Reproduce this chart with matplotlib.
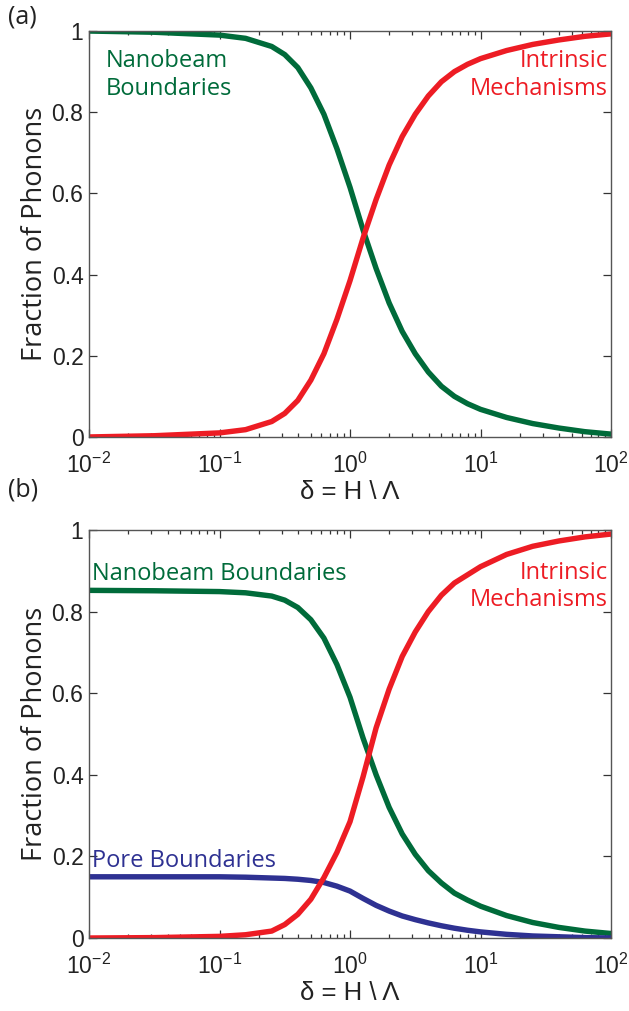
import numpy as np
import matplotlib
matplotlib.use("Agg")
import matplotlib.pyplot as plt
from matplotlib.ticker import FixedLocator, FixedFormatter, LogLocator, NullFormatter

# x positions (delta), read at these log10 values
log_delta = [-2, -1.5, -1, -0.8, -0.6, -0.5, -0.4, -0.3, -0.2, -0.1, 0, 0.1, 0.2,
             0.3, 0.4, 0.5, 0.6, 0.7, 0.8, 0.9, 1.0, 1.2, 1.4, 1.6, 1.8, 2]
delta = 10.0 ** np.array(log_delta)

# panel (a)
a_intrinsic = [0.0, 0.003, 0.01, 0.018, 0.038, 0.058, 0.09, 0.14, 0.205, 0.29, 0.385, 0.49, 0.585,
               0.67, 0.74, 0.795, 0.84, 0.875, 0.9, 0.918, 0.932, 0.952, 0.967, 0.978, 0.987, 0.993]
a_nanobeam = [1.0, 0.997, 0.99, 0.982, 0.962, 0.942, 0.91, 0.86, 0.795, 0.71, 0.615, 0.51, 0.415,
              0.33, 0.26, 0.205, 0.16, 0.125, 0.1, 0.082, 0.068, 0.048, 0.033, 0.022, 0.013, 0.007]

# panel (b)
b_intrinsic = [0.0, 0.001, 0.004, 0.008, 0.017, 0.033, 0.058, 0.095, 0.148, 0.21, 0.285, 0.395, 0.515,
               0.61, 0.69, 0.75, 0.80, 0.84, 0.87, 0.89, 0.91, 0.94, 0.96, 0.973, 0.983, 0.99]
b_nanobeam = [0.852, 0.851, 0.849, 0.846, 0.838, 0.828, 0.81, 0.78, 0.735, 0.67, 0.59, 0.49, 0.40,
              0.32, 0.255, 0.205, 0.165, 0.135, 0.11, 0.093, 0.078, 0.055, 0.038, 0.026, 0.017, 0.011]
b_pore = [0.15, 0.15, 0.15, 0.149, 0.147, 0.146, 0.144, 0.141, 0.136, 0.127, 0.115, 0.097, 0.08,
          0.066, 0.054, 0.045, 0.037, 0.03, 0.024, 0.019, 0.015, 0.009, 0.005, 0.003, 0.001, 0.0]

yticks = [0, 0.2, 0.4, 0.6, 0.8, 1]
ytick_labels = ["0", "0.2", "0.4", "0.6", "0.8", "1"]

GREEN = "#006b3a"
RED = "#ed1c24"
BLUE = "#2e3192"
TXT = "Open Sans"

plt.rcParams["mathtext.fontset"] = "custom"
plt.rcParams["mathtext.rm"] = "Liberation Sans"
plt.rcParams["font.family"] = ["Liberation Sans", "DejaVu Sans"]


def style_axes(ax):
    ax.set_xscale("log")
    ax.set_xlim(1e-2, 1e2)
    ax.set_ylim(0, 1)
    ax.yaxis.set_major_locator(FixedLocator(yticks))
    ax.yaxis.set_major_formatter(FixedFormatter(ytick_labels))
    ax.xaxis.set_major_locator(LogLocator(base=10, numticks=10))
    ax.xaxis.set_minor_locator(LogLocator(base=10, subs=np.arange(2, 10), numticks=20))
    ax.xaxis.set_minor_formatter(NullFormatter())
    ax.tick_params(which="both", direction="in", top=True, right=True, colors="#333333",
                   labelcolor="#222222", labelsize=16.5, width=0.9)
    ax.tick_params(axis="x", which="major", length=6, pad=11)
    ax.tick_params(axis="y", which="major", length=6, pad=4)
    ax.tick_params(which="minor", length=3)
    for s in ax.spines.values():
        s.set_color("#555555")
        s.set_linewidth(1.0)
    ax.set_ylabel("Fraction of Phonons", fontsize=19.5, family=TXT, color="#222222", labelpad=2)
    ax.set_xlabel("δ = H \\ Λ", fontsize=18.5, color="#222222", labelpad=2)


fig = plt.figure(figsize=(6.29, 10.11), dpi=100)
ax1 = fig.add_axes([0.1415, 0.5678, 0.9714 - 0.1415, 0.9693 - 0.5678])
ax2 = fig.add_axes([0.1415, 0.0722, 0.9714 - 0.1415, 0.4758 - 0.0722])

lw = 3.9
ax1.plot(delta, a_nanobeam, color=GREEN, lw=lw)
ax1.plot(delta, a_intrinsic, color=RED, lw=lw)
style_axes(ax1)
ax1.text(0.0135, 0.955, "Nanobeam\nBoundaries", color=GREEN, fontsize=17, family=TXT,
         va="top", ha="left", linespacing=1.2)
ax1.text(94, 0.955, "Intrinsic\nMechanisms", color=RED, fontsize=17, family=TXT,
         va="top", ha="right", linespacing=1.2, multialignment="right")

ax2.plot(delta, b_nanobeam, color=GREEN, lw=lw)
ax2.plot(delta, b_pore, color=BLUE, lw=lw)
ax2.plot(delta, b_intrinsic, color=RED, lw=lw)
style_axes(ax2)
ax2.text(0.0105, 0.862, "Nanobeam Boundaries", color=GREEN, fontsize=17, family=TXT,
         va="bottom", ha="left")
ax2.text(0.0105, 0.16, "Pore Boundaries", color=BLUE, fontsize=17, family=TXT,
         va="bottom", ha="left")
ax2.text(94, 0.925, "Intrinsic\nMechanisms", color=RED, fontsize=17, family=TXT,
         va="top", ha="right", linespacing=1.2, multialignment="right")

fig.text(0.012, 0.996, "(a)", fontsize=18, family=TXT, color="#222222", va="top")
fig.text(0.012, 0.528, "(b)", fontsize=18, family=TXT, color="#222222", va="top")

fig.savefig("out.png", dpi=100)
